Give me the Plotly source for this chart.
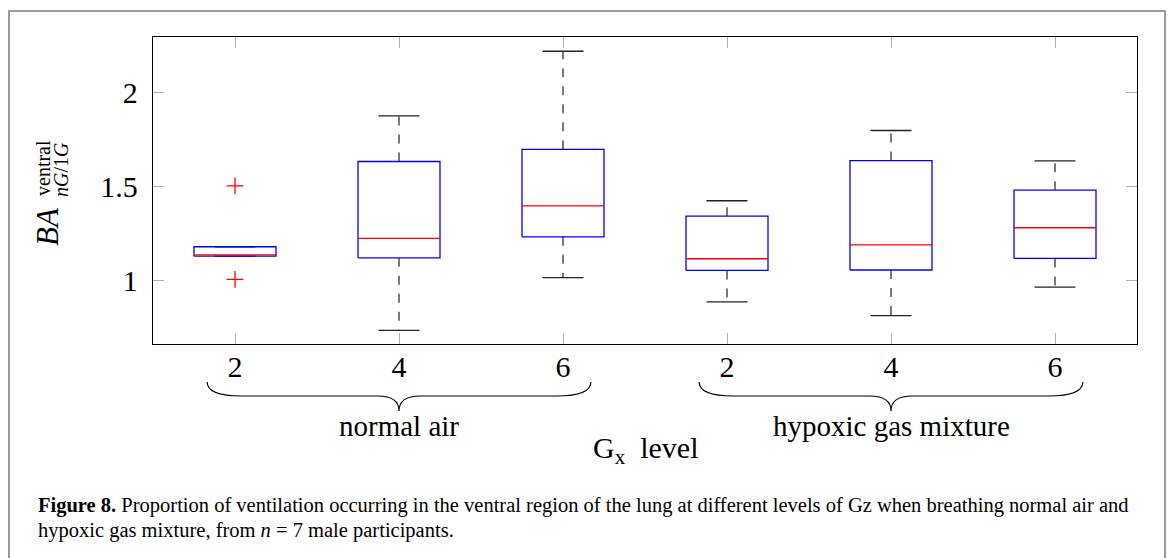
import plotly.graph_objects as go

# ---------------- data ----------------
conditions = ["normal air", "normal air", "normal air",
              "hypoxic gas mixture", "hypoxic gas mixture", "hypoxic gas mixture"]
g_levels = ["2", "4", "6", "2", "4", "6"]
lower_whisker = [1.131, 0.736, 1.016, 0.887, 0.814, 0.966]
q1 = [1.131, 1.122, 1.234, 1.055, 1.057, 1.119]
median = [1.138, 1.226, 1.399, 1.117, 1.191, 1.282]
q3 = [1.181, 1.635, 1.700, 1.344, 1.640, 1.482]
upper_whisker = [1.181, 1.878, 2.222, 1.426, 1.800, 1.638]
outlier_group = [1, 1]
outlier_value = [1.505, 1.007]
group_labels = ["normal air", "hypoxic gas mixture"]
group_centres = [2, 5]
y_ticks = [1, 1.5, 2]

# ---------------- layout geometry ----------------
W_FIG, H_FIG = 1171, 558
L, R, T, B = 153, 34, 37, 214
PW = W_FIG - L - R
PH = H_FIG - T - B
BOX_HALF = 0.25
CAP_HALF = 0.125
SERIF = "Liberation Serif"


def px_x(px):
    return (px - L) / PW


def px_y(py):
    return (H_FIG - B - py) / PH


positions = list(range(1, len(g_levels) + 1))

wx, wy, cx, cy, bx, by, mx, my = [], [], [], [], [], [], [], []
for p, lw, a, m, b, uw in zip(positions, lower_whisker, q1, median, q3, upper_whisker):
    wx += [p, p, None, p, p, None]
    wy += [b, uw, None, a, lw, None]
    cx += [p - CAP_HALF, p + CAP_HALF, None, p - CAP_HALF, p + CAP_HALF, None]
    cy += [uw, uw, None, lw, lw, None]
    bx += [p - BOX_HALF, p + BOX_HALF, p + BOX_HALF, p - BOX_HALF, p - BOX_HALF, None]
    by += [a, a, b, b, a, None]
    mx += [p - BOX_HALF, p + BOX_HALF, None]
    my += [m, m, None]

fig = go.Figure()
fig.add_trace(go.Scatter(x=wx, y=wy, mode="lines", hoverinfo="skip",
                         line=dict(color="#222222", width=1.2, dash="9px,9px")))
fig.add_trace(go.Scatter(x=cx, y=cy, mode="lines", hoverinfo="skip",
                         line=dict(color="#222222", width=1.3)))
fig.add_trace(go.Scatter(x=bx, y=by, mode="lines",
                         line=dict(color="#0000ff", width=1.3)))
fig.add_trace(go.Scatter(x=mx, y=my, mode="lines",
                         line=dict(color="#ff0000", width=1.3)))
fig.add_trace(go.Scatter(x=outlier_group, y=outlier_value, mode="markers",
                         marker=dict(symbol="cross-thin", size=12, color="#ff0000",
                                     line=dict(color="#ff0000", width=1.3))))

axis_common = dict(showgrid=False, zeroline=False, showline=True, mirror="ticks",
                   linecolor="#000000", linewidth=1.3, ticks="inside", ticklen=11,
                   tickwidth=1, tickcolor="#b0b0b0",
                   tickfont=dict(family=SERIF, size=30, color="#000000"))

fig.update_xaxes(range=[0.5, 6.5], tickmode="array", tickvals=positions,
                 ticktext=g_levels, ticklabelstandoff=-4, **axis_common)
fig.update_yaxes(range=[0.663, 2.298], tickmode="array", tickvals=y_ticks,
                 ticktext=[f"{v:g}" for v in y_ticks], ticklabelstandoff=8, **axis_common)

shapes = []
# outer frame
shapes.append(dict(type="rect", xref="paper", yref="paper",
                   x0=px_x(9), x1=px_x(1165), y0=px_y(566), y1=px_y(11),
                   line=dict(color="#9a9a9a", width=2), layer="below"))
# braces under each group
ye, ya, yt = px_y(382), px_y(396), px_y(411)
HALF_SPAN, CURL, TIP = 1.17, 0.21, 0.13
for c in group_centres:
    x0, x1 = c - HALF_SPAN, c + HALF_SPAN
    path = (f"M {x0},{ye} Q {x0},{ya} {x0 + CURL},{ya} L {c - TIP},{ya} "
            f"Q {c},{ya} {c},{yt} Q {c},{ya} {c + TIP},{ya} "
            f"L {x1 - CURL},{ya} Q {x1},{ya} {x1},{ye}")
    shapes.append(dict(type="path", xref="x", yref="paper", path=path,
                       line=dict(color="#000000", width=1.2)))

annotations = []
for c, lab in zip(group_centres, group_labels):
    annotations.append(dict(x=c, y=px_y(426), xref="x", yref="paper", text=lab,
                            showarrow=False, xanchor="center", yanchor="middle",
                            font=dict(family=SERIF, size=29, color="#000000")))
# x axis title
annotations.append(dict(x=0.5, y=px_y(450), xref="paper", yref="paper",
                        text="G<sub>x</sub>  level", showarrow=False,
                        xanchor="center", yanchor="middle",
                        font=dict(family=SERIF, size=30, color="#000000")))
# y axis title (stacked super/subscripts)
annotations.append(dict(x=px_x(47), y=px_y(227), xref="paper", yref="paper",
                        text="<i>BA</i>", textangle=-90, showarrow=False,
                        xanchor="center", yanchor="middle",
                        font=dict(family=SERIF, size=31, color="#000000")))
annotations.append(dict(x=px_x(43), y=px_y(168), xref="paper", yref="paper",
                        text="ventral", textangle=-90, showarrow=False,
                        xanchor="center", yanchor="middle",
                        font=dict(family=SERIF, size=20, color="#000000")))
annotations.append(dict(x=px_x(61), y=px_y(170), xref="paper", yref="paper",
                        text="<i>nG</i>/1<i>G</i>", textangle=-90, showarrow=False,
                        xanchor="center", yanchor="middle",
                        font=dict(family=SERIF, size=20, color="#000000")))
# caption
annotations.append(dict(x=px_x(36), y=px_y(505), xref="paper", yref="paper",
                        text="<b>Figure 8.</b> Proportion of ventilation occurring in the ventral region "
                             "of the lung at different levels of Gz when breathing normal air and",
                        showarrow=False, xanchor="left", yanchor="middle", align="left",
                        font=dict(family=SERIF, size=20.5, color="#000000")))
annotations.append(dict(x=px_x(36), y=px_y(530), xref="paper", yref="paper",
                        text="hypoxic gas mixture, from <i>n</i> = 7 male participants.",
                        showarrow=False, xanchor="left", yanchor="middle", align="left",
                        font=dict(family=SERIF, size=20.5, color="#000000")))

fig.update_layout(width=W_FIG, height=H_FIG, margin=dict(l=L, r=R, t=T, b=B),
                  paper_bgcolor="#ffffff", plot_bgcolor="#ffffff", showlegend=False,
                  shapes=shapes, annotations=annotations)

fig.write_html("out.html")
